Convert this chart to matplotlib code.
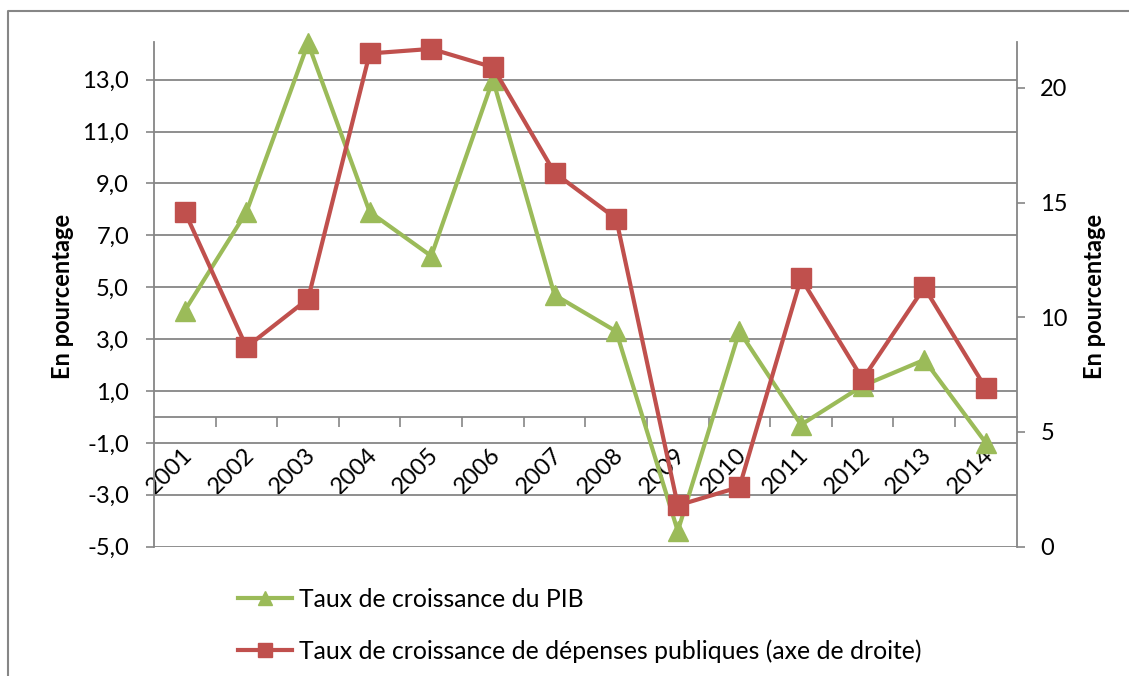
import matplotlib
matplotlib.use("Agg")
import matplotlib.pyplot as plt
import matplotlib.transforms as mtransforms
from matplotlib.lines import Line2D

# séries annuelles (en %)
annees = ["2001", "2002", "2003", "2004", "2005", "2006", "2007",
          "2008", "2009", "2010", "2011", "2012", "2013", "2014"]
pib = [4.1, 7.9, 14.4, 7.9, 6.2, 13.0, 4.7, 3.3, -4.4, 3.3, -0.3, 1.2, 2.2, -1.0]
depenses = [14.6, 8.7, 10.8, 21.5, 21.7, 20.9, 16.3, 14.3, 1.8, 2.6, 11.7, 7.3, 11.3, 6.9]

ticks_gauche = [-5, -3, -1, 1, 3, 5, 7, 9, 11, 13]
ticks_droite = [0, 5, 10, 15, 20]

VERT = "#9BBB59"
ROUGE = "#C0504D"
GRIS = "#868686"

plt.rcParams["font.family"] = ["Lato", "DejaVu Sans"]

fig = plt.figure(figsize=(11.29, 6.76), dpi=100)
ax = fig.add_axes([154 / 1129, 1 - 546.7 / 676, (1016.7 - 154) / 1129, (546.7 - 42) / 676])
ax2 = ax.twinx()

x = list(range(len(annees)))
ax.plot(x, pib, color=VERT, lw=3, marker="^", ms=15, zorder=3, clip_on=False)
ax2.plot(x, depenses, color=ROUGE, lw=3, marker="s", ms=14.5, zorder=3, clip_on=False)

# axe de gauche
ax.set_xlim(-0.5, len(annees) - 0.5)
ax.set_ylim(-5, 14.45)
ax.set_yticks(ticks_gauche)
ax.set_yticklabels([f"{v:.1f}".replace(".", ",") for v in ticks_gauche])
ax.yaxis.grid(True, color=GRIS, lw=1.3)
ax.set_axisbelow(True)
ax.tick_params(axis="y", length=6, width=1.2, color=GRIS, pad=12, labelsize=17)

# axe horizontal placé à zéro, repères entre les catégories
ax.spines["bottom"].set_position(("data", 0))
for cote in ["top", "right"]:
    ax.spines[cote].set_visible(False)
for cote in ["left", "bottom"]:
    ax.spines[cote].set_color(GRIS)
    ax.spines[cote].set_linewidth(1.3)
ax.set_xticks(x)
ax.set_xticklabels(annees)
ax.set_xticks([i + 0.5 for i in x[:-1]], minor=True)
ax.tick_params(axis="x", which="major", length=0, pad=25, labelsize=17)
ax.tick_params(axis="x", which="minor", length=7, width=1.2, color=GRIS, direction="out")
decalage = mtransforms.ScaledTranslation(3 / 72, 0, fig.dpi_scale_trans)
for lab in ax.get_xticklabels():
    lab.set_rotation(45)
    lab.set_rotation_mode("anchor")
    lab.set_ha("right")
    lab.set_va("center")
    lab.set_transform(lab.get_transform() + decalage)

# axe de droite
ax2.set_ylim(0, 22)
ax2.set_yticks(ticks_droite)
ax2.tick_params(axis="y", length=6, width=1.2, color=GRIS, pad=11, labelsize=17)
for cote in ["top", "left", "bottom"]:
    ax2.spines[cote].set_visible(False)
ax2.spines["right"].set_color(GRIS)
ax2.spines["right"].set_linewidth(1.3)

fig.text(62 / 1129, 1 - 296 / 676, "En pourcentage", rotation=90,
         fontsize=17, fontweight="bold", ha="center", va="center")
fig.text(1094 / 1129, 1 - 296 / 676, "En pourcentage", rotation=90,
         fontsize=17, fontweight="bold", ha="center", va="center")

handles = [
    Line2D([], [], color=VERT, lw=3, marker="^", ms=10),
    Line2D([], [], color=ROUGE, lw=3, marker="s", ms=10),
]
fig.legend(handles,
           ["Taux de croissance du PIB",
            "Taux de croissance de dépenses publiques (axe de droite)"],
           loc="upper left", bbox_to_anchor=(238 / 1129, 1 - 588 / 676),
           frameon=False, fontsize=17.8, handlelength=2.2, handletextpad=0.25,
           labelspacing=1.15, borderpad=0, borderaxespad=0)

# cadre du graphique
fig.add_artist(Line2D([8 / 1129, 8 / 1129, 1], [0, 1 - 11 / 676, 1 - 11 / 676],
                      transform=fig.transFigure, color=GRIS, lw=1.5))

fig.savefig("out.png", dpi=100)
